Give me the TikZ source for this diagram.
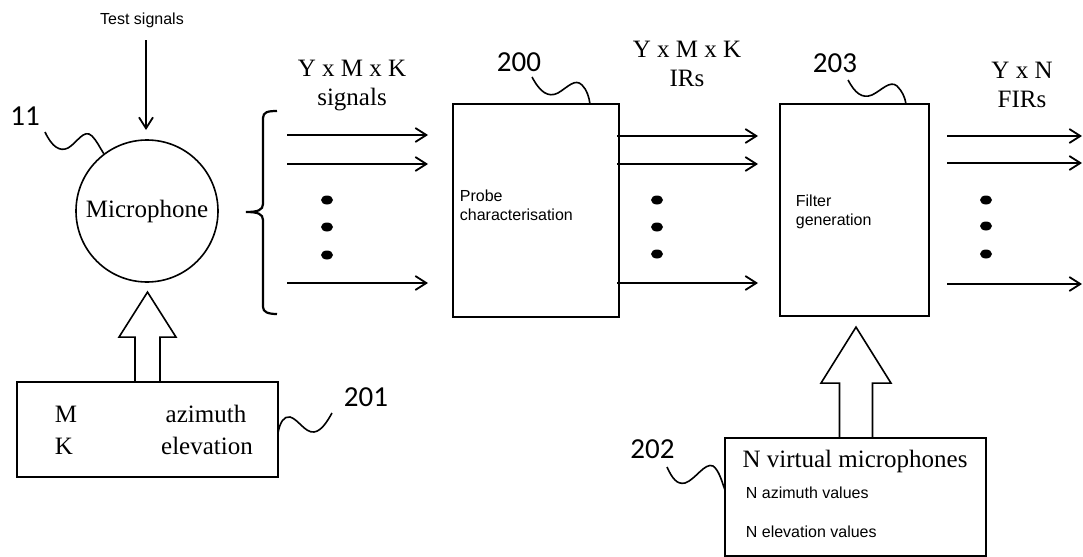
\documentclass[tikz,border=0pt]{standalone}
\usepackage{fontspec}
\setmainfont{Liberation Serif}
\newfontfamily\arialf{Liberation Sans}
\newfontfamily\calibf{Carlito}
\usetikzlibrary{arrows.meta,shapes.geometric}
\begin{document}
\begin{tikzpicture}[x=0.5pt,y=-0.5pt,
  line width=0.9pt,
  arr/.style={-{Straight Barb[length=5.5pt,width=7pt]}},
  big/.style={font=\fontsize{12.5}{14.5}\selectfont, align=center, inner sep=0pt},
  small/.style={font=\arialf\fontsize{8}{9.7}\selectfont, align=left, inner sep=0pt},
  refnum/.style={font=\calibf\fontsize{14.5}{16}\selectfont, inner sep=0pt},
  blk/.style={draw, rectangle, inner sep=0pt},
  dotn/.style={ellipse, fill, minimum width=6pt, minimum height=4.5pt, inner sep=0pt},
  squig/.style={line width=0.8pt},
  hollow/.style={line width=0.8pt, line join=miter}]
\useasboundingbox (0,0) rectangle (1083,557);

% microphone and test signals
\node[small] (test) at (142,20) {Test signals};
\node[draw, circle, minimum size=71pt, inner sep=0pt, line width=0.8pt,
      font=\fontsize{12.5}{14.5}\selectfont] (mic) at (147,211) {Microphone};
\coordinate (ts) at (146,40);
\coordinate (te) at (146,130);
\draw[arr] (ts) -- (te);
\node[refnum] (l11) at (25,116) {11};
\draw[squig] (45,132) .. controls (52,147) and (60,152) .. (68,148)
  .. controls (77,143) and (84,128) .. (92,136)
  .. controls (97,141) and (100,148) .. (mic.127);

% brace
\draw[line width=1.1pt] (277,111) .. controls (268,111) and (263,112) .. (263,118) -- (263,204)
  .. controls (263,210) and (258,212) .. (246,212)
  .. controls (258,212) and (263,214) .. (263,220) -- (263,307)
  .. controls (263,312) and (268,314) .. (277,314);

% labels
\node[big] (ymk1) at (352,85.5) {Y x M x K\\signals};
\node[big] (ymk2) at (687,63.5) {Y x M x K\\IRs};
\node[big] (yn) at (1022,85) {Y x N\\FIRs};

% input arrows
\coordinate (a1s) at (287,135); \coordinate (a1e) at (428,135);
\coordinate (a2s) at (287,164); \coordinate (a2e) at (428,164);
\coordinate (a3s) at (287,283); \coordinate (a3e) at (428,283);
\draw[arr] (a1s) -- (a1e);
\draw[arr] (a2s) -- (a2e);
\draw[arr] (a3s) -- (a3e);
\node[dotn] (d1a) at (327,200) {};
\node[dotn] (d1b) at (327,227) {};
\node[dotn] (d1c) at (327,255) {};

% probe characterisation
\node[blk, minimum width=83pt, minimum height=106.5pt] (probe) at (536,210.5) {};
\node[small, anchor=west] (probetxt) at (459,205.5) {Probe\\characterisation};
\node[refnum] (l200) at (519,62.5) {200};
\draw[squig] (532,77) .. controls (540,92) and (548,98) .. (558,93)
  .. controls (568,87) and (575,78) .. (582,85)
  .. controls (587,90) and (589,97) .. (590,104);

% middle arrows
\coordinate (b1s) at (617,136); \coordinate (b1e) at (758,136);
\coordinate (b2s) at (617,164); \coordinate (b2e) at (758,164);
\coordinate (b3s) at (617,283); \coordinate (b3e) at (758,283);
\draw[arr] (b1s) -- (b1e);
\draw[arr] (b2s) -- (b2e);
\draw[arr] (b3s) -- (b3e);
\node[dotn] (d2a) at (657,200) {};
\node[dotn] (d2b) at (657,227) {};
\node[dotn] (d2c) at (657,254) {};

% filter generation
\node[blk, minimum width=74.5pt, minimum height=106pt] (filter) at (854.5,210) {};
\node[small, anchor=west] (filtxt) at (795,212) {Filter\\generation};
\node[refnum] (l203) at (835,63) {203};
\draw[squig] (848,80) .. controls (855,93) and (862,99) .. (872,95)
  .. controls (882,90) and (890,80) .. (897,86)
  .. controls (902,91) and (905,97) .. (906,104);

% output arrows
\coordinate (c1s) at (947,136); \coordinate (c1e) at (1082,136);
\coordinate (c2s) at (947,163); \coordinate (c2e) at (1082,163);
\coordinate (c3s) at (947,284); \coordinate (c3e) at (1082,284);
\draw[arr] (c1s) -- (c1e);
\draw[arr] (c2s) -- (c2e);
\draw[arr] (c3s) -- (c3e);
\node[dotn] (d3a) at (986,200) {};
\node[dotn] (d3b) at (986,226) {};
\node[dotn] (d3c) at (986,254) {};

% box 201
\node[blk, minimum width=130.5pt, minimum height=47.5pt] (b201) at (147.5,429.5) {};
\node[big, anchor=base west] (tm) at (54,422) {M};
\node[big, anchor=base west] (tk) at (54,454) {K};
\node[big, anchor=base] (taz) at (206,422) {azimuth};
\node[big, anchor=base] (tel) at (207,454) {elevation};
\draw[hollow] (b201.north) ++(-12.5,0) -- ++(0,-44) -- ++(-16,0) -- ++(28.5,-45)
  -- ++(28.5,45) -- ++(-16,0) -- ++(0,44);
\node[refnum] (l201) at (366,397) {201};
\draw[squig] (278,433) .. controls (280,422) and (284,416) .. (290,417)
  .. controls (298,419) and (305,433) .. (314,432)
  .. controls (322,431) and (328,420) .. (332,413);

% box 202
\node[blk, minimum width=130.5pt, minimum height=59pt] (b202) at (855.5,497) {};
\node[big] (nvm) at (855,461) {N virtual microphones};
\node[small, anchor=west] (naz) at (745,493) {N azimuth values};
\node[small, anchor=west] (nel) at (745,531.5) {N elevation values};
\draw[hollow] (b202.north) ++(-16,0) -- ++(0,-54) -- ++(-18.5,0) -- ++(35,-56)
  -- ++(35,56) -- ++(-18.5,0) -- ++(0,54);
\node[refnum] (l202) at (652.5,449) {202};
\draw[squig] (667,467) .. controls (672,478) and (677,485) .. (685,483)
  .. controls (695,480) and (705,462) .. (713,466)
  .. controls (719,470) and (722,482) .. (725,490);
\end{tikzpicture}
\end{document}
